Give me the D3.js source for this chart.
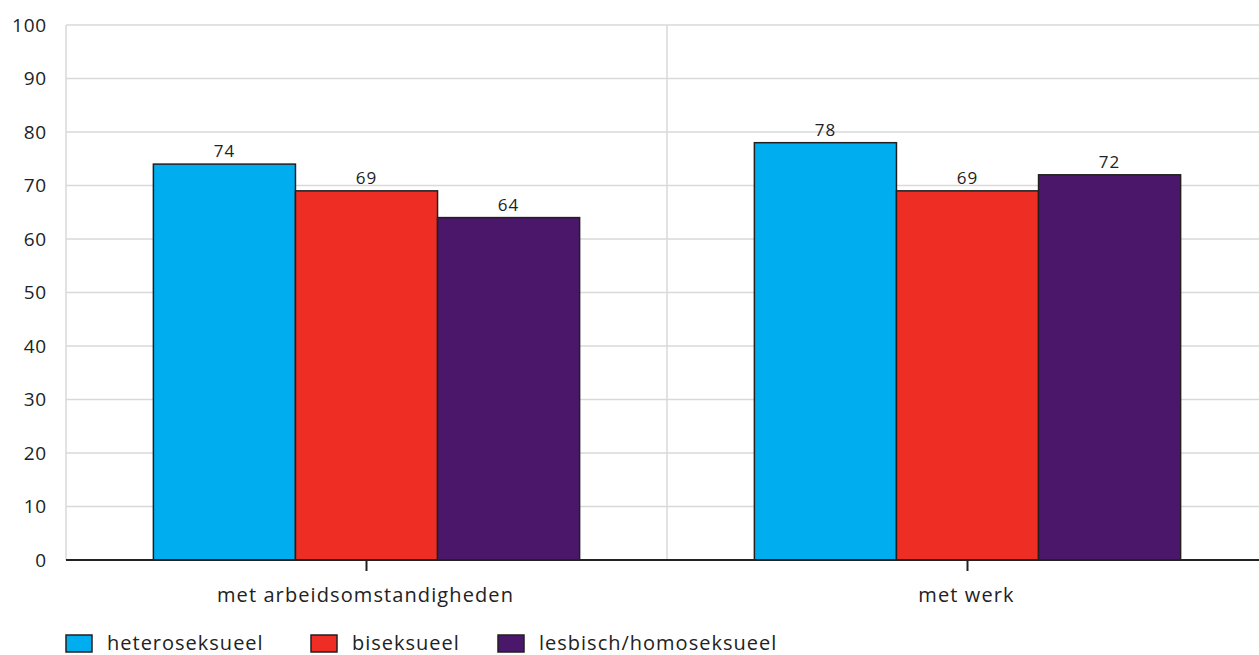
<!DOCTYPE html>
<html><head><meta charset="utf-8">
<script src="https://cdn.jsdelivr.net/npm/d3@7"></script>
<style>body{margin:0;background:#fff}svg{display:block;font-family:"Open Sans",sans-serif}</style>
</head><body>
<svg id="c" width="1259" height="655"></svg>
<script>
const categories = ["met arbeidsomstandigheden", "met werk"];
const seriesNames = ["heteroseksueel", "biseksueel", "lesbisch/homoseksueel"];
const heteroseksueel = [74, 78];
const biseksueel = [69, 69];
const lesbisch = [64, 72];
const yTicks = [0, 10, 20, 30, 40, 50, 60, 70, 80, 90, 100];
const colors = ["#00aeef", "#ee2e24", "#4b176a"];

const values = [heteroseksueel, biseksueel, lesbisch];
const svg = d3.select("#c");
const x = d3.scaleBand().domain(categories).range([66, 1268]).paddingInner(0).paddingOuter(0);
const xs = d3.scaleBand().domain(seriesNames).range([0, x.bandwidth()]).paddingInner(0).paddingOuter(0.615);
const y = d3.scaleLinear().domain([0, 100]).range([560, 25]);

// grid
svg.append("g").selectAll("line").data(yTicks.filter(d => d > 0)).join("line")
  .attr("x1", 66).attr("x2", 1259).attr("y1", d => y(d)).attr("y2", d => y(d))
  .attr("stroke", "#d9d9d9").attr("stroke-width", 1.5);
svg.append("line").attr("x1", 66).attr("x2", 66).attr("y1", y(100)).attr("y2", y(0)).attr("stroke", "#d9d9d9").attr("stroke-width", 1.5);
svg.append("line").attr("x1", x(categories[1])).attr("x2", x(categories[1])).attr("y1", y(100)).attr("y2", y(0)).attr("stroke", "#d9d9d9").attr("stroke-width", 1.5);

// y labels
svg.append("g").selectAll("text").data(yTicks).join("text")
  .attr("x", 47).attr("y", d => y(d)).attr("dy", "0.35em").attr("text-anchor", "end")
  .attr("font-size", 19).attr("letter-spacing", 0.8).attr("fill", "#222").text(d => d);

// bars
const g = svg.append("g").selectAll("g").data(categories).join("g")
  .attr("transform", d => `translate(${x(d)},0)`);
g.selectAll("rect").data((c, ci) => seriesNames.map((s, si) => ({s, si, v: values[si][ci]}))).join("rect")
  .attr("x", d => xs(d.s)).attr("width", xs.bandwidth())
  .attr("y", d => y(d.v)).attr("height", d => y(0) - y(d.v))
  .attr("fill", d => colors[d.si]).attr("stroke", "#231f20").attr("stroke-width", 1.5);
g.selectAll("text").data((c, ci) => seriesNames.map((s, si) => ({s, si, v: values[si][ci]}))).join("text")
  .attr("x", d => xs(d.s) + xs.bandwidth() / 2).attr("y", d => y(d.v) - 7)
  .attr("text-anchor", "middle").attr("font-size", 17).attr("letter-spacing", 1).attr("fill", "#222").text(d => d.v);

// x axis
svg.append("line").attr("x1", 66).attr("x2", 1259).attr("y1", y(0)).attr("y2", y(0)).attr("stroke", "#222").attr("stroke-width", 2);
svg.append("g").selectAll("line").data(categories).join("line")
  .attr("x1", d => x(d) + x.bandwidth() / 2).attr("x2", d => x(d) + x.bandwidth() / 2)
  .attr("y1", y(0)).attr("y2", y(0) + 11).attr("stroke", "#222").attr("stroke-width", 2);
svg.append("g").selectAll("text").data(categories).join("text")
  .attr("x", d => x(d) + x.bandwidth() / 2 - 1).attr("y", 602).attr("text-anchor", "middle")
  .attr("font-size", 20).attr("letter-spacing", 1.1).attr("fill", "#222").text(d => d);

// legend
const legX = [66, 311, 498];
const lg = svg.append("g").selectAll("g").data(seriesNames).join("g")
  .attr("transform", (d, i) => `translate(${legX[i]},635)`);
lg.append("rect").attr("width", 26).attr("height", 17).attr("fill", (d, i) => colors[i]).attr("stroke", "#231f20").attr("stroke-width", 1.5);
lg.append("text").attr("x", 41).attr("y", 8).attr("dy", "0.35em").attr("font-size", 20).attr("letter-spacing", 1).attr("fill", "#222").text(d => d);
</script>
</body></html>
